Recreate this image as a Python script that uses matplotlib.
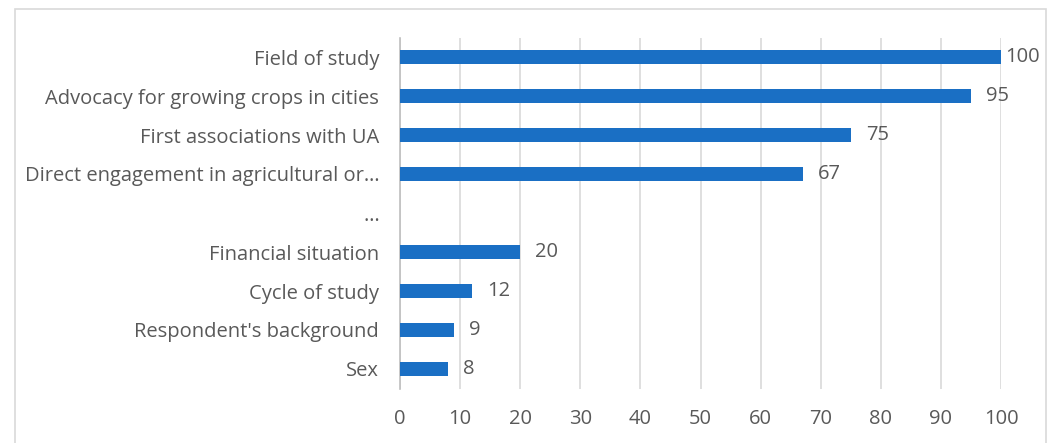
import matplotlib
matplotlib.use('Agg')
import matplotlib.pyplot as plt
from matplotlib.patches import Rectangle
import numpy as np

# factor names, top to bottom; "…" marks the gap row with no bar
categories = ['Field of study',
              'Advocacy for growing crops in cities',
              'First associations with UA',
              'Direct engagement in agricultural or\u2026',
              '\u2026',
              'Financial situation',
              'Cycle of study',
              "Respondent's background",
              'Sex']
values = [100, 95, 75, 67, None, 20, 12, 9, 8]
x_ticks = list(range(0, 101, 10))

BAR_COL = '#1a6fc4'
TXT_COL = '#595959'
GRID_COL = '#d9d9d9'
FS = 14.5

plt.rcParams['font.family'] = ['Open Sans', 'DejaVu Sans']

fig = plt.figure(figsize=(10.54, 4.43), dpi=100)
ax = fig.add_axes([400 / 1054, 1 - 388.5 / 443, 601 / 1054, 351 / 443])

# outer chart frame
fig.patches.append(Rectangle((15 / 1054, -0.01), 1031 / 1054, 1 - 9 / 443 + 0.01,
                             transform=fig.transFigure, fill=False,
                             edgecolor=GRID_COL, lw=1.2))

ypos = np.arange(len(categories))
for y, v in zip(ypos, values):
    if v is None:
        continue
    ax.barh(y, v, height=0.36, color=BAR_COL, zorder=3)
    # labels sit just past the bar end; the full-length bar keeps its label tight
    off = 3 if v >= 100 else 11
    ax.annotate(f'{v}', xy=(v, y), xytext=(off, 0), textcoords='offset points',
                ha='left', va='center', fontsize=FS, color=TXT_COL)

ax.set_yticks(ypos)
ax.set_yticklabels(categories)
ax.set_ylim(len(categories) - 0.5, -0.5)
ax.set_xlim(0, 100)
ax.set_xticks(x_ticks)

ax.tick_params(axis='y', length=0, pad=15, labelsize=FS, labelcolor=TXT_COL)
ax.tick_params(axis='x', length=0, pad=15, labelsize=FS, labelcolor=TXT_COL)

ax.grid(axis='x', color=GRID_COL, lw=1.2, zorder=0)
for side in ['top', 'right', 'bottom']:
    ax.spines[side].set_visible(False)
ax.spines['left'].set_color('#bfbfbf')
ax.spines['left'].set_linewidth(1.2)

fig.savefig('out.png', dpi=100)
